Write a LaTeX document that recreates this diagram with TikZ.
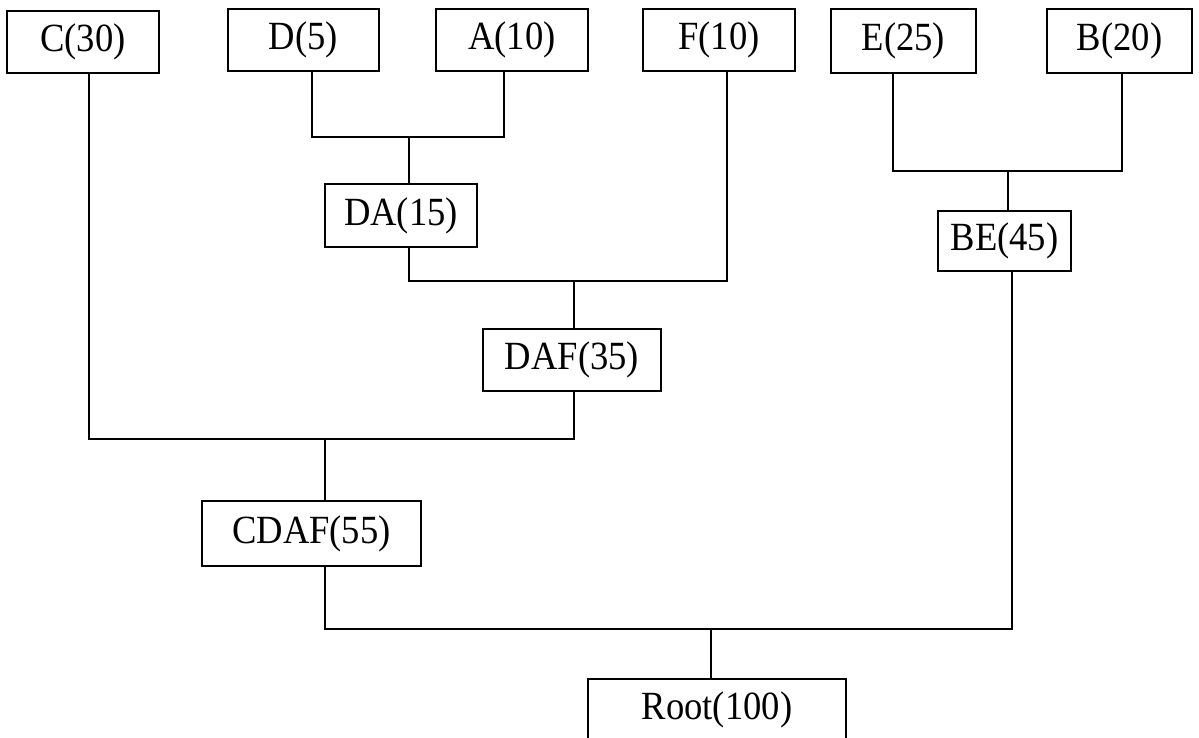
\documentclass[tikz,border=0pt]{standalone}
\usepackage{fontspec}
\setmainfont{Liberation Serif}[FakeStretch=0.915]
\begin{document}
\begin{tikzpicture}[x=0.5pt,y=-0.5pt,
  box/.style={draw=black,line width=1pt,fill=white,inner sep=0pt,
    font=\fontsize{20}{24}\selectfont,minimum height=31pt},
  link/.style={draw=black,line width=1pt}]
\useasboundingbox (0,0) rectangle (1199,738);
\clip (0,0) rectangle (1199,738);
% leaves
\node[box,minimum width=76pt] (C) at (83,42) {C(30)};
\node[box,minimum width=75.5pt] (D) at (303.5,40) {D(5)};
\node[box,minimum width=76pt] (A) at (512,40) {A(10)};
\node[box,minimum width=76pt] (F) at (719,40) {F(10)};
\node[box,minimum width=72.5pt,minimum height=32pt] (E) at (903.5,41) {E(25)};
\node[box,minimum width=72.5pt,minimum height=32pt] (B) at (1119.5,41) {B(20)};
% internal nodes
\node[box,minimum width=76pt,minimum height=31.5pt] (DA) at (401,215.5) {DA(15)};
\node[box,minimum width=66.5pt,minimum height=30pt] (BE) at (1004.5,241) {BE(45)};
\node[box,minimum width=89pt] (DAF) at (572,360) {DAF(35)};
\node[box,minimum width=109.5pt,minimum height=32.5pt] (CDAF) at (311.5,533.5) {CDAF(55)};
\node[box,minimum width=129pt,minimum height=31pt] (Root) at (717,709.5) {Root(100)};
% junctions
\coordinate (jDA) at (408.5,137);
\coordinate (jBE) at (1008,171);
\coordinate (jDAF) at (574,281);
\coordinate (jCDAF) at (325,439);
\coordinate (jRoot) at (711,629);
% connectors
\draw[link] ([xshift=4.25pt]D.south) |- (jDA) -| ([xshift=-4pt]A.south);
\draw[link] (jDA) -- (jDA |- DA.north);
\draw[link] ([xshift=-5.25pt]E.south) |- (jBE) -| ([xshift=1.25pt]B.south);
\draw[link] (jBE) -- (jBE |- BE.north);
\draw[link] ([xshift=4pt]DA.south) |- (jDAF) -| ([xshift=4pt]F.south);
\draw[link] (jDAF) -- (jDAF |- DAF.north);
\draw[link] ([xshift=3pt]C.south) |- (jCDAF) -| ([xshift=1pt]DAF.south);
\draw[link] (jCDAF) -- (jCDAF |- CDAF.north);
\draw[link] ([xshift=6.75pt]CDAF.south) |- (jRoot) -| ([xshift=3.75pt]BE.south);
\draw[link] (jRoot) -- (jRoot |- Root.north);
\end{tikzpicture}
\end{document}
